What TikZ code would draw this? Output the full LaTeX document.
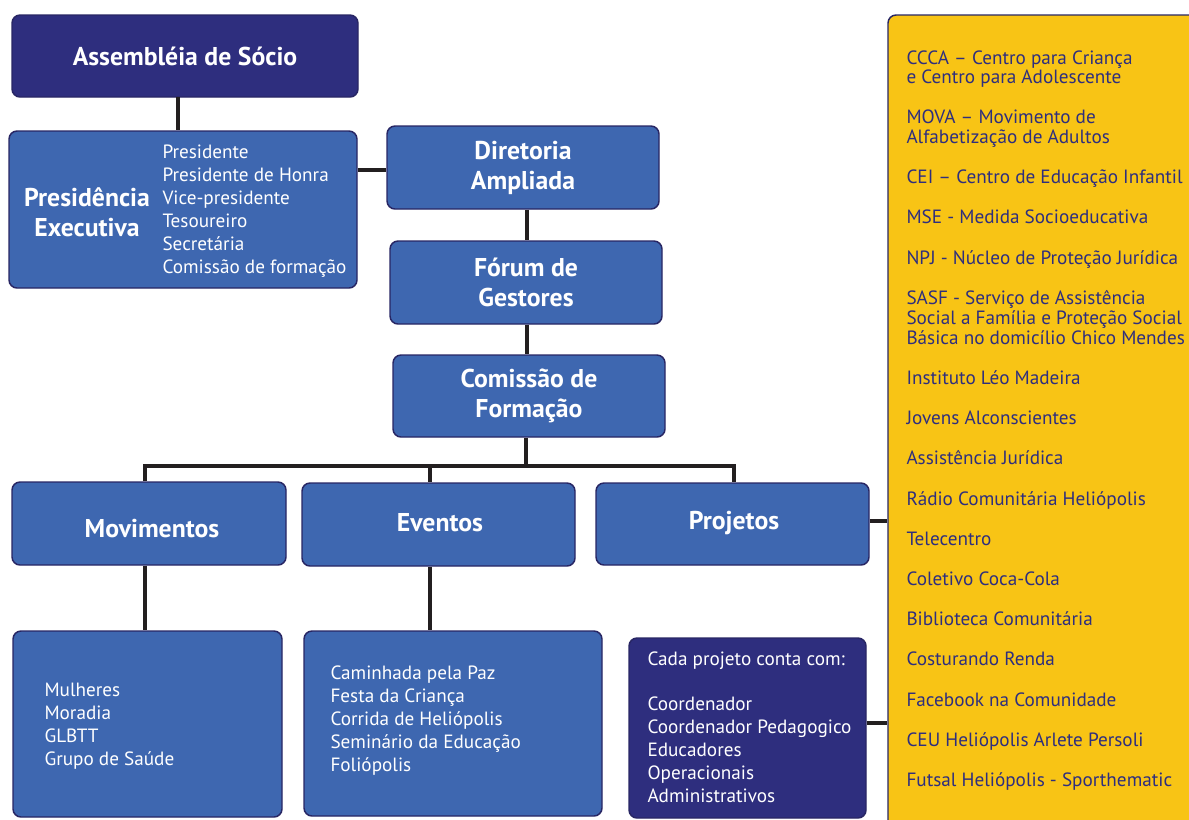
\documentclass[tikz,border=0pt]{standalone}
\usepackage{fontspec}
\setmainfont{PT Sans}
\usepackage{tikz}
\definecolor{navy}{RGB}{46,46,126}
\definecolor{boxblue}{RGB}{62,103,176}
\definecolor{gold}{RGB}{248,196,21}
\definecolor{rim}{RGB}{40,38,100}
\definecolor{wirec}{RGB}{35,31,32}
\tikzset{every picture/.style={line width=0.75pt}}
\tikzset{
  orgbox/.style={draw=rim, line width=1.1pt, rounded corners=6pt, inner sep=0pt, text=white, align=center, font=\bfseries\fontsize{19.3}{22.5}\selectfont},
  bluebox/.style={orgbox, fill=boxblue},
  navybox/.style={orgbox, fill=navy},
  titletext/.style={text=white, align=center, inner sep=0pt, font=\bfseries\fontsize{19.3}{22.5}\selectfont},
  listitem/.style={anchor=base west, inner sep=0pt, text=white, font=\fontsize{14.4}{17}\selectfont},
  goldinfo/.style={listitem, text=navy},
  wire/.style={draw=wirec, line width=3pt}
}

\begin{document}
\begin{tikzpicture}[x=0.75pt,y=0.75pt,yscale=-1,xscale=1]
\clip (0,0) rectangle (1189,819);

%Rounded Rect
\node [navybox, minimum width=259.5pt, minimum height=61.5pt] (asm) at (185,56) {Assembléia de Sócio};
%Rounded Rect
\node [bluebox, minimum width=261pt, minimum height=117.75pt] (pres) at (183,209.5) {};
%Rounded Rect
\node [bluebox, minimum width=204pt, minimum height=62.25pt] (dir) at (523,167.5) {Diretoria\\Ampliada};
%Rounded Rect
\node [bluebox, minimum width=204pt, minimum height=62.25pt] (forum) at (526,282.5) {Fórum de\\Gestores};
%Rounded Rect
\node [bluebox, minimum width=204pt, minimum height=61.5pt] (com) at (529,396) {Comissão de\\Formação};
%Rounded Rect
\node [bluebox, minimum width=205.5pt, minimum height=62.25pt] (mov) at (149,523.5) {};
%Rounded Rect
\node [bluebox, minimum width=204.75pt, minimum height=62.25pt] (evt) at (438.5,524.5) {};
%Rounded Rect
\node [bluebox, minimum width=204.75pt, minimum height=61.5pt] (proj) at (732.5,524) {};
%Rounded Rect
\node [bluebox, minimum width=201.75pt, minimum height=139.5pt] (movlist) at (147.5,724) {};
%Rounded Rect
\node [bluebox, minimum width=223.5pt, minimum height=138.75pt] (evtlist) at (453,723.5) {};
%Rounded Rect
\node [navybox, minimum width=177.75pt, minimum height=135pt] (cada) at (747.5,728) {};
%Rounded Rect
\node [orgbox, fill=gold, minimum width=234pt, minimum height=611.25pt] (yel) at (1044,422.5) {};

% Text Node
\node [titletext] (movtitle) at (152,529) {Movimentos};
% Text Node
\node [titletext] (evttitle) at (440,523) {Eventos};
% Text Node
\node [titletext] (projtitle) at (734,523) {Projetos};
% Text Node
\node [titletext] (prestitle) at (87,212) {Presidência\\Executiva};

% Text Node
\foreach \t [count=\i] in {Presidente,Presidente de Honra,Vice-presidente,Tesoureiro,Secretária,Comissão de formação}
  \node [listitem] (pres-\i) at (162,{152+23*(\i-1)+6}) {\t};
% Text Node
\foreach \t [count=\i] in {Mulheres,Moradia,GLBTT,Grupo de Saúde}
  \node [listitem] (mov-\i) at (44,{690+23.3*(\i-1)+6}) {\t};
% Text Node
\foreach \t [count=\i] in {Caminhada pela Paz,Festa da Criança,Corrida de Heliópolis,Seminário da Educação,Foliópolis}
  \node [listitem] (evt-\i) at (330,{673+23*(\i-1)+6}) {\t};
% Text Node
\node [listitem] (cada-0) at (647,665) {Cada projeto conta com:};
\foreach \t [count=\i] in {Coordenador,Coordenador Pedagogico,Educadores,Operacionais,Administrativos}
  \node [listitem] (cada-\i) at (647,{704+23.2*(\i-1)+6}) {\t};

% Text Node
\foreach \y/\t [count=\i] in {58/CCCA – Centro para Criança,77/e Centro para Adolescente,117/MOVA – Movimento de,137/Alfabetização de Adultos,177/CEI – Centro de Educação Infantil,217/MSE - Medida Socioeducativa,258/NPJ - Núcleo de Proteção Jurídica,298/SASF - Serviço de Assistência,318/Social a Família e Proteção Social,338/Básica no domicílio Chico Mendes,378/Instituto Léo Madeira,418/Jovens Alconscientes,458/Assistência Jurídica,499/Rádio Comunitária Heliópolis,539/Telecentro,579/Coletivo Coca-Cola,619/Biblioteca Comunitária,659/Costurando Renda,700/Facebook na Comunidade,740/CEU Heliópolis Arlete Persoli,780/Futsal Heliópolis - Sporthematic}
  \node [goldinfo] (gold-\i) at (906,{\y+6}) {\t};

%Straight Lines
\coordinate (j-asm) at (178,97);
\draw [wire] (j-asm) -- (j-asm |- pres.north);
\coordinate (j-pres) at (357,170);
\draw [wire] (pres.east |- j-pres) -- (dir.west |- j-pres);
\coordinate (j-dir) at (527,209);
\draw [wire] (dir.south -| j-dir) -- (forum.north -| j-dir);
\draw [wire] (forum.south -| j-dir) -- (com.north -| j-dir);
%Straight Lines
\coordinate (bus) at (526,466);
\coordinate (d-mov) at (145,466);
\coordinate (d-evt) at (430,466);
\coordinate (d-proj) at (734,466);
\draw [wire] (com.south -| bus) -- (bus);
\draw [wire, line join=miter] (mov.north -| d-mov) -- (d-mov) -- (d-proj) -- (proj.north -| d-proj);
\draw [wire] (d-evt) -- (evt.north -| d-evt);
\draw [wire] (mov.south -| d-mov) -- (movlist.north -| d-mov);
\draw [wire] (evt.south -| d-evt) -- (evtlist.north -| d-evt);
%Straight Lines
\coordinate (j-proj) at (878,521);
\draw [wire] (proj.east |- j-proj) -- (yel.west |- j-proj);
\coordinate (j-cada) at (878,723);
\draw [wire] (cada.east |- j-cada) -- (yel.west |- j-cada);
\end{tikzpicture}
\end{document}
